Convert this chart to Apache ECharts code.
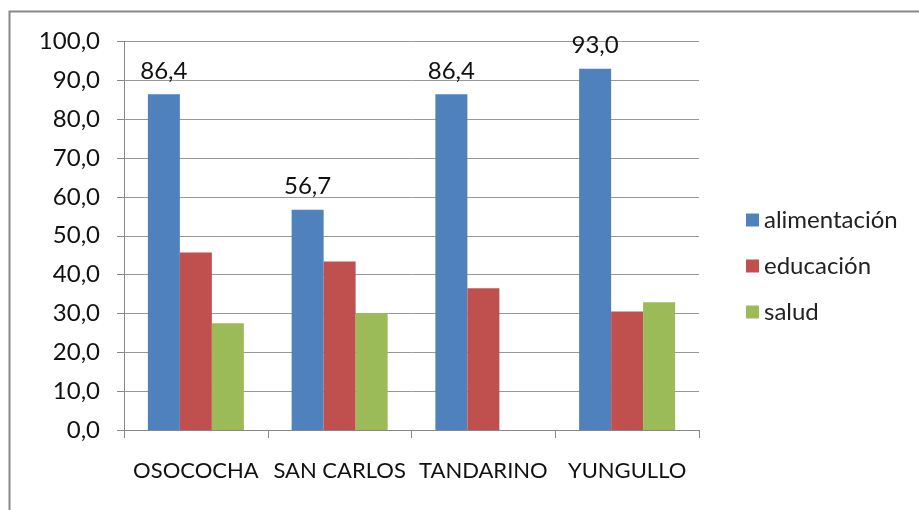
<!DOCTYPE html>
<html>
<head>
<meta charset="utf-8">
<script src="https://cdn.jsdelivr.net/npm/echarts@6/dist/echarts.min.js"></script>
<style>
  html, body { margin: 0; padding: 0; background: #fff; }
  #main { width: 919px; height: 510px; }
</style>
</head>
<body>
<div id="main"></div>
<script>
var myChart = echarts.init(document.getElementById('main'));

var categories = ['OSOCOCHA', 'SAN CARLOS', 'TANDARINO', 'YUNGULLO'];
var alimentacion = [86.4, 56.7, 86.4, 93.0];
var educacion = [45.7, 43.4, 36.5, 30.5];
var salud = [27.5, 30.1, null, 32.9];

var fontName = 'Lato';

// coma decimal, como en el original
var fmt = function (v) {
    return Number(v).toFixed(1).replace('.', ',');
};

var option = {
    animation: false,
    color: ['#4F81BD', '#C0504D', '#9BBB59'],
    textStyle: { fontFamily: fontName },
    graphic: [{
        type: 'rect',
        shape: { x: 9.5, y: 11.5, width: 1000, height: 1000 },
        style: { fill: 'none', stroke: '#888', lineWidth: 2 },
        silent: true
    }],
    legend: {
        orient: 'vertical',
        left: 741,
        top: 203,
        itemWidth: 13,
        itemHeight: 13,
        itemGap: 22,
        icon: 'rect',
        textStyle: { fontSize: 24, color: '#222', fontFamily: fontName },
        data: ['alimentación', 'educación', 'salud']
    },
    grid: { left: 124, right: 220, top: 41.5, bottom: 80 },
    xAxis: {
        type: 'category',
        data: categories,
        axisLine: { lineStyle: { color: '#888', width: 1 } },
        axisTick: { show: true, length: 8, lineStyle: { color: '#888' } },
        axisLabel: { color: '#111', fontSize: 22, margin: 30, interval: 0, fontFamily: fontName }
    },
    yAxis: {
        type: 'value',
        min: 0,
        max: 100,
        interval: 10,
        axisLine: { show: true, lineStyle: { color: '#888', width: 1 } },
        axisTick: { show: true, length: 7, lineStyle: { color: '#888' } },
        splitLine: { lineStyle: { color: '#999', width: 1 } },
        axisLabel: { color: '#111', fontSize: 24, margin: 24, fontFamily: fontName, formatter: fmt }
    },
    series: [
        {
            name: 'alimentación',
            type: 'bar',
            barWidth: 32,
            barGap: '0%',
            data: alimentacion,
            label: {
                show: true,
                position: 'top',
                distance: 11,
                fontSize: 24,
                color: '#111',
                fontFamily: fontName,
                formatter: function (p) { return fmt(p.value); }
            }
        },
        {
            name: 'educación',
            type: 'bar',
            barWidth: 32,
            barGap: '0%',
            data: educacion
        },
        {
            name: 'salud',
            type: 'bar',
            barWidth: 32,
            barGap: '0%',
            data: salud
        }
    ]
};

myChart.setOption(option);
</script>
</body>
</html>
